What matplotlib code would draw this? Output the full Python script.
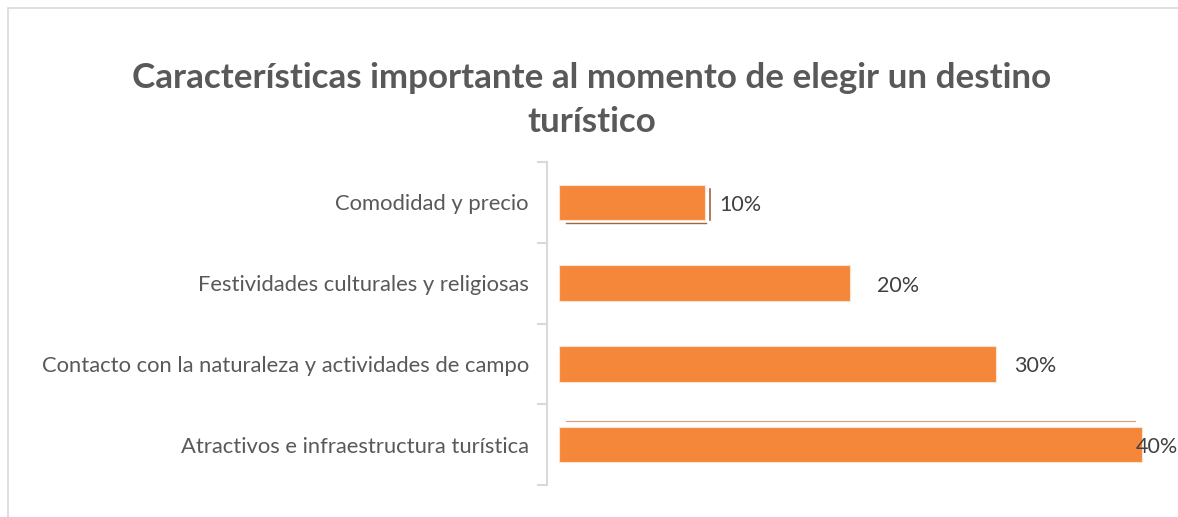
import numpy as np
import matplotlib.pyplot as plt
from matplotlib.patches import Rectangle

# ---- data (top to bottom as shown)
categories = ['Comodidad y precio',
              'Festividades culturales y religiosas',
              'Contacto con la naturaleza y actividades de campo',
              'Atractivos e infraestructura turística']
values = [10, 20, 30, 40]
labels = ['10%', '20%', '30%', '40%']

titleText = 'Características importante al momento de elegir un destino\nturístico'
barColor = '#F4873A'
textColor = '#595959'
gridGray = '#D9D9D9'

plt.rcParams['font.family'] = ['Lato', 'DejaVu Sans']

W, H = 1178, 517
fig = plt.figure(figsize=(W / 100, H / 100), dpi=100)

# outer frame of the chart area
fig.patches.append(Rectangle((8 / W, -0.1), 1.2, 1 - 8 / H + 0.1,
                             transform=fig.transFigure, fill=False,
                             edgecolor=gridGray, linewidth=1.2))

ax = fig.add_axes([547 / W, 1 - 485 / H, (W - 547) / W, (485 - 162) / H])

n = len(categories)
ypos = np.arange(n)
barH = 0.44
ax.barh(ypos, values, height=barH, color=barColor, edgecolor='#FBE3D2', linewidth=0.8)

# shadow artefacts seen in the original
ax.plot([0.5, values[0] + 0.1], [ypos[0] + barH / 2 + 0.04] * 2, color='#A0673F', lw=1.0)
ax.plot([values[0] + 0.35] * 2, [ypos[0] - barH / 2 + 0.05, ypos[0] + barH / 2], color='#A0673F', lw=1.2)
ax.plot([0.5, values[3] - 0.5], [ypos[3] - barH / 2 - 0.07] * 2, color='#E0A27C', lw=0.9)

# data labels
offsets = [1.0, 1.8, 1.2, -0.4]
for y, v, t, o in zip(ypos, values, labels, offsets):
    ax.text(v + o, y + 0.03, t, va='center', ha='left', fontsize=15.5, color='#404040')

ax.set_xlim(-0.82, 42.47)
ax.set_ylim(n - 0.5, -0.5)

ax.set_yticks(np.arange(n + 1) - 0.5)
ax.set_yticklabels([])
ax.set_yticks(ypos, minor=True)
ax.set_yticklabels(categories, minor=True, fontsize=15.8, color=textColor)
ax.tick_params(axis='y', which='major', length=7, color=gridGray, width=1.5)
ax.tick_params(axis='y', which='minor', length=0, pad=13)
ax.set_xticks([])

for s in ['top', 'right', 'bottom']:
    ax.spines[s].set_visible(False)
ax.spines['left'].set_color(gridGray)
ax.spines['left'].set_linewidth(1.5)

fig.text(592 / W, 1 - 100 / H, titleText, ha='center', va='center',
         fontsize=25.2, fontweight='bold', color=textColor, linespacing=1.45)

fig.savefig('out.png', dpi=100)
